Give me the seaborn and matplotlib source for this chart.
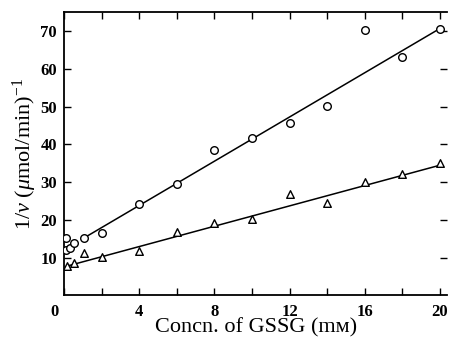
import matplotlib
matplotlib.use("Agg")
import matplotlib.pyplot as plt
import seaborn as sns
import pandas as pd

# --- data ---
circle_x = [0.1, 0.1, 0.3, 0.55, 1.05, 2.0, 4.0, 6.0, 8.0, 10.0, 12.0, 14.0, 16.0, 18.0, 20.0]
circle_y = [15.3, 12.0, 12.5, 13.8, 15.3, 16.5, 24.1, 29.6, 38.4, 41.7, 45.6, 50.2, 70.2, 63.1, 70.7]
tri_x = [0.15, 0.55, 1.05, 2.0, 4.0, 6.0, 8.0, 10.0, 12.0, 14.0, 16.0, 18.0, 20.0]
tri_y = [7.9, 8.5, 11.2, 10.2, 11.7, 16.7, 19.3, 20.2, 26.9, 24.5, 30.0, 32.3, 35.0]
# fitted straight lines (end points)
circle_line_x = [0.95, 20.0]
circle_line_y = [14.9, 70.7]
tri_line_x = [0.25, 20.0]
tri_line_y = [7.9, 34.5]

x_ticks = [0, 2, 4, 6, 8, 10, 12, 14, 16, 18, 20]
x_labels = ["", "", "4", "", "8", "", "12", "", "16", "", "20"]
y_ticks = [10, 20, 30, 40, 50, 60, 70]

sns.set_theme(style="ticks")
plt.rcParams["font.family"] = ["Liberation Serif", "DejaVu Serif"]
plt.rcParams["mathtext.fontset"] = "custom"
plt.rcParams["mathtext.it"] = "Liberation Serif:italic"
plt.rcParams["mathtext.rm"] = "Liberation Serif"
plt.rcParams["axes.labelcolor"] = "black"
plt.rcParams["text.color"] = "black"

fig = plt.figure(figsize=(4.49, 3.46), dpi=100)
ax = fig.add_axes([0.1425, 0.146, 0.854, 0.8185])

df_c = pd.DataFrame({"x": circle_x, "y": circle_y})
df_t = pd.DataFrame({"x": tri_x, "y": tri_y})
df_cl = pd.DataFrame({"x": circle_line_x, "y": circle_line_y})
df_tl = pd.DataFrame({"x": tri_line_x, "y": tri_line_y})

sns.lineplot(data=df_cl, x="x", y="y", ax=ax, color="black", lw=1.1)
sns.lineplot(data=df_tl, x="x", y="y", ax=ax, color="black", lw=1.1)
sns.scatterplot(data=df_c, x="x", y="y", ax=ax, marker="o", s=30,
                facecolor="white", edgecolor="black", linewidth=1.0, zorder=3)
sns.scatterplot(data=df_t, x="x", y="y", ax=ax, marker="^", s=30,
                facecolor="white", edgecolor="black", linewidth=1.0, zorder=3)

ax.set_xlim(0, 20.4)
ax.set_ylim(0, 75)
ax.set_xticks(x_ticks)
ax.set_xticklabels(x_labels)
ax.set_yticks(y_ticks)
ax.set_yticklabels([str(v) for v in y_ticks])

for s in ["left", "bottom", "top"]:
    ax.spines[s].set_visible(True)
    ax.spines[s].set_linewidth(1.3)
    ax.spines[s].set_color("black")
ax.spines["right"].set_visible(False)

ax.tick_params(axis="x", direction="in", length=5, width=1.0, top=True,
               labelsize=12, pad=6, colors="black")
ax.tick_params(axis="y", direction="in", length=5, width=1.0, right=True,
               labelsize=12, pad=5, colors="black")
for lab in ax.get_xticklabels() + ax.get_yticklabels():
    lab.set_fontweight("bold")

ax.text(-0.5, -2.2, "0", ha="center", va="top", fontsize=12, fontweight="bold",
        color="black", transform=ax.transData)

ax.set_xlabel("Concn. of GSSG (mᴍ)", fontsize=16, labelpad=-1, color="black")
ax.set_ylabel(r"1/$v$ ($\mu$mol/min)$^{-1}$", fontsize=16, labelpad=1, color="black")

fig.savefig("out.png", dpi=100)
